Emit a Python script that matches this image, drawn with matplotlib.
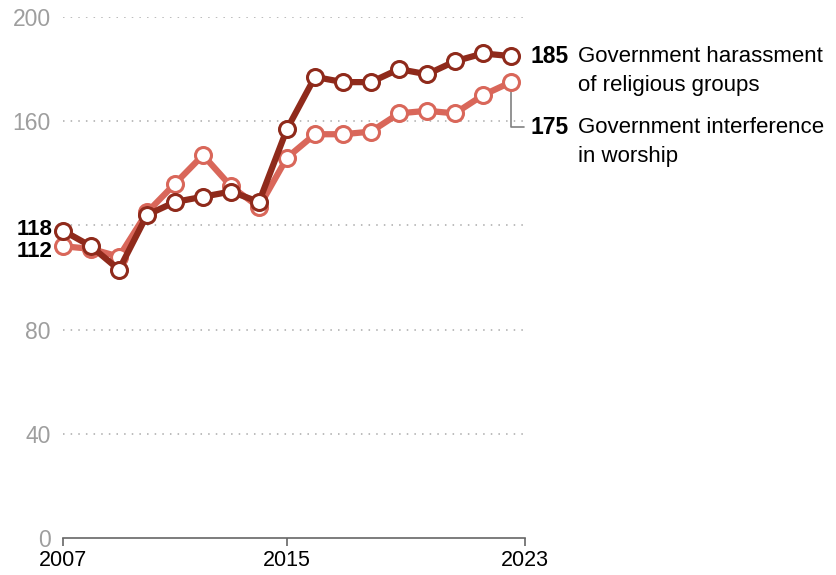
import matplotlib
matplotlib.use("Agg")
import matplotlib.pyplot as plt

years = list(range(2007, 2024))
harassment = [118, 112, 103, 124, 129, 131, 133, 129, 157, 177, 175, 175, 180, 178, 183, 186, 185]
interference = [112, 111, 108, 125, 136, 147, 135, 127, 146, 155, 155, 156, 163, 164, 163, 170, 175]
ytick_vals = [0, 40, 80, 160, 200]
grid_vals = [40, 80, 120, 160, 200]
xtick_vals = [2007, 2015, 2023.5]
xtick_labels = ["2007", "2015", "2023"]
label_harass = ["Government harassment", "of religious groups"]
label_interf = ["Government interference", "in worship"]

DARK = "#8f2a1b"
LIGHT = "#d9675a"
FONT = "Liberation Sans"
plt.rcParams['font.family'] = [FONT, 'DejaVu Sans']

fig = plt.figure(figsize=(8.36, 5.75), dpi=100)
W, H = 836, 575
ax = fig.add_axes([63 / W, 1 - 538 / H, (525 - 63) / W, 521 / H])
ax.set_xlim(2007, 2023.5)
ax.set_ylim(0, 200)

for g in grid_vals:
    ax.axhline(g, color="#aaaaaa", lw=1.1, ls=(0, (1, 4)), zorder=0)

ax.plot(years, interference, color=LIGHT, lw=4.5, marker="o", ms=11.5,
        mfc="white", mec=LIGHT, mew=2.2, clip_on=False, zorder=3,
        solid_joinstyle="round")
ax.plot(years, harassment, color=DARK, lw=4.5, marker="o", ms=11.5,
        mfc="white", mec=DARK, mew=2.2, clip_on=False, zorder=4,
        solid_joinstyle="round")

for s in ["top", "right", "left"]:
    ax.spines[s].set_visible(False)
ax.spines["bottom"].set_color("#666666")
ax.spines["bottom"].set_linewidth(1.2)

ax.set_yticks(ytick_vals)
ax.set_yticklabels([str(v) for v in ytick_vals])
ax.tick_params(axis="y", length=0, pad=9, labelsize=16.5, labelcolor="#9e9e9e")
ax.set_xticks(xtick_vals)
ax.set_xticklabels(xtick_labels)
ax.tick_params(axis="x", length=6, width=1.2, color="#666666", pad=3,
               labelsize=15.5, labelcolor="black")

# Start value labels
ax.annotate(str(harassment[0]), xy=(years[0], harassment[0]), xytext=(-10, 1),
            textcoords="offset pixels", ha="right", va="center",
            fontsize=16, fontweight="bold", color="black")
ax.annotate(str(interference[0]), xy=(years[0], interference[0]), xytext=(-10, -5),
            textcoords="offset pixels", ha="right", va="center",
            fontsize=16, fontweight="bold", color="black")

# End labels
ax.annotate(str(harassment[-1]), xy=(years[-1], harassment[-1]), xytext=(20, 0),
            textcoords="offset pixels", ha="left", va="center",
            fontsize=16.5, fontweight="bold", color="black")
ax.annotate(label_harass[0], xy=(years[-1], harassment[-1]), xytext=(67, 0),
            textcoords="offset pixels", ha="left", va="center",
            fontsize=16, color="black")
ax.annotate(label_harass[1], xy=(years[-1], harassment[-1]), xytext=(67, -29),
            textcoords="offset pixels", ha="left", va="center",
            fontsize=16, color="black")

ax.annotate("", xy=(years[-1], interference[-1]), xytext=(13, -45),
            textcoords="offset pixels",
            arrowprops=dict(arrowstyle="-", color="#808080", lw=1.2,
                            shrinkA=0, shrinkB=0,
                            connectionstyle="angle,angleA=0,angleB=90,rad=0"),
            zorder=1)
ax.annotate(str(interference[-1]), xy=(years[-1], interference[-1]), xytext=(20, -45),
            textcoords="offset pixels", ha="left", va="center",
            fontsize=16.5, fontweight="bold", color="black")
ax.annotate(label_interf[0], xy=(years[-1], interference[-1]), xytext=(67, -45),
            textcoords="offset pixels", ha="left", va="center",
            fontsize=16, color="black")
ax.annotate(label_interf[1], xy=(years[-1], interference[-1]), xytext=(67, -74),
            textcoords="offset pixels", ha="left", va="center",
            fontsize=16, color="black")

fig.savefig("out.png", dpi=100)
